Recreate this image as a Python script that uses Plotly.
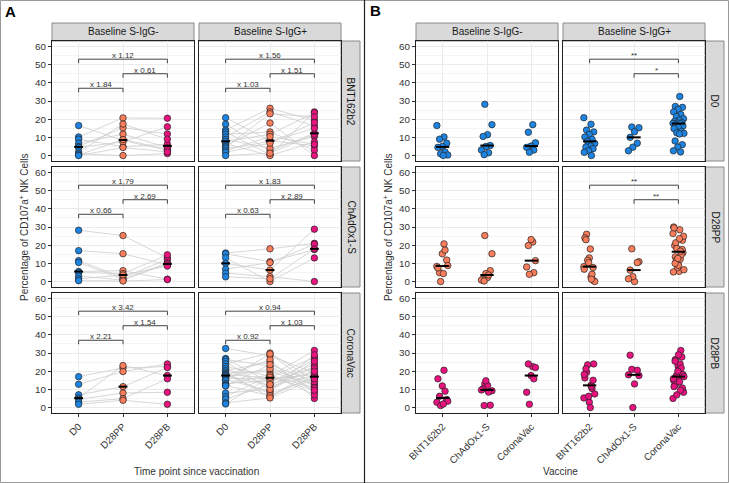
import numpy as np
import plotly.graph_objects as go

# ---------------- data ----------------
VACCINES = ["BNT162b2", "ChAdOx1-S", "CoronaVac"]
TIMEPOINTS = ["D0", "D28PP", "D28PB"]
SEROSTATUS = ["Baseline S-IgG-", "Baseline S-IgG+"]

# subject-ordered values (D0, D28PP, D28PB), % CD107a+ NK cells
BNT_NEG_D0 = [16.5, 10.2, 9.0, 6.8, 5.0, 4.5, 2.0, 1.0, 0.3, 0.0]
BNT_NEG_PP = [8.3, 20.7, 4.9, 11.8, 15.3, 7.5, 17.3, 0.0, 8.8, 4.4]
BNT_NEG_PB = [2.9, 20.5, 6.2, 4.4, 11.9, 15.8, 9.0, 1.1, 3.5, 2.0]

BNT_POS_D0 = [20.8, 17.2, 14.0, 13.0, 11.7, 10.2, 8.9, 7.8, 6.6, 5.3, 4.7, 3.8, 2.6, 1.8, 0.0]
BNT_POS_PP = [8.2, 2.6, 26.0, 0.5, 13.0, 24.0, 4.0, 11.7, 0.0, 17.9, 23.0, 7.7, 10.4, 6.8, 1.3]
BNT_POS_PB = [5.3, 12.2, 19.4, 24.0, 2.9, 16.3, 10.5, 23.5, 7.5, 0.0, 21.3, 15.0, 6.2, 18.2, 11.7]

CHAD_NEG_D0 = [28.2, 17.0, 11.5, 10.5, 5.5, 5.0, 3.0, 1.5, 0.5]
CHAD_NEG_PP = [25.3, 15.3, 2.2, 1.3, 6.0, 4.4, 0.8, 3.6, 0.3]
CHAD_NEG_PB = [13.0, 9.2, 12.2, 10.3, 1.3, 14.7, 9.7, 8.5, 1.1]

CHAD_POS_D0 = [15.7, 15.3, 13.1, 10.0, 6.8, 4.6, 2.6]
CHAD_POS_PP = [18.0, 10.9, 0.0, 6.3, 10.4, 2.7, 1.5]
CHAD_POS_PB = [21.0, 17.6, 13.0, 28.8, 20.5, 0.0, 18.0]

CORO_NEG_D0 = [17.0, 12.8, 7.0, 5.2, 4.5, 3.0, 1.8]
CORO_NEG_PP = [21.8, 19.8, 11.5, 23.1, 8.0, 4.9, 4.0]
CORO_NEG_PB = [22.5, 24.0, 22.0, 17.6, 8.4, 15.8, 1.8]

CORO_POS_D0 = [32.5, 27.0, 26.5, 25.4, 24.0, 22.6, 21.4, 20.3, 19.5, 18.8, 18.1, 17.9, 17.7, 17.6,
               16.9, 16.2, 15.5, 14.8, 13.3, 12.5, 12.2, 11.9, 8.0, 6.0, 4.7, 2.6, 2.0]
CORO_POS_PP = [28.5, 13.6, 22.7, 9.5, 30.0, 17.2, 11.8, 24.9, 5.6, 19.8, 16.4, 7.6, 26.4, 12.2,
               21.3, 15.8, 8.9, 29.5, 14.7, 18.2, 6.5, 23.6, 10.0, 17.6, 12.7, 5.3, 16.7]
CORO_POS_PB = [19.1, 26.4, 10.0, 22.8, 15.0, 31.4, 17.6, 8.4, 20.8, 12.3, 27.8, 16.5, 5.0, 24.0,
               13.0, 18.2, 29.0, 11.5, 21.7, 7.0, 17.0, 14.2, 25.5, 10.8, 20.0, 15.8, 9.5]

# fold-change labels: (D0 vs D28PP, D28PP vs D28PB, D0 vs D28PB)
FOLD_BNT_NEG = ["x 1.84", "x 0.61", "x 1.12"]
FOLD_BNT_POS = ["x 1.03", "x 1.51", "x 1.56"]
FOLD_CHAD_NEG = ["x 0.66", "x 2.69", "x 1.79"]
FOLD_CHAD_POS = ["x 0.63", "x 2.89", "x 1.83"]
FOLD_CORO_NEG = ["x 2.21", "x 1.54", "x 3.42"]
FOLD_CORO_POS = ["x 0.92", "x 1.03", "x 0.94"]

# significance in panel B, S-IgG+ column: (BNT162b2 vs CoronaVac, ChAdOx1-S vs CoronaVac)
SIG_D0_POS = ["**", "*"]
SIG_PP_POS = ["**", "**"]

DATA = {
    ("BNT162b2", 0): (BNT_NEG_D0, BNT_NEG_PP, BNT_NEG_PB),
    ("BNT162b2", 1): (BNT_POS_D0, BNT_POS_PP, BNT_POS_PB),
    ("ChAdOx1-S", 0): (CHAD_NEG_D0, CHAD_NEG_PP, CHAD_NEG_PB),
    ("ChAdOx1-S", 1): (CHAD_POS_D0, CHAD_POS_PP, CHAD_POS_PB),
    ("CoronaVac", 0): (CORO_NEG_D0, CORO_NEG_PP, CORO_NEG_PB),
    ("CoronaVac", 1): (CORO_POS_D0, CORO_POS_PP, CORO_POS_PB),
}
FOLDS = {
    ("BNT162b2", 0): FOLD_BNT_NEG, ("BNT162b2", 1): FOLD_BNT_POS,
    ("ChAdOx1-S", 0): FOLD_CHAD_NEG, ("ChAdOx1-S", 1): FOLD_CHAD_POS,
    ("CoronaVac", 0): FOLD_CORO_NEG, ("CoronaVac", 1): FOLD_CORO_POS,
}
SIGS = {(0, 1): SIG_D0_POS, (1, 1): SIG_PP_POS}

# ---------------- styling / layout ----------------
W, H = 729, 483
FONT = "Liberation Sans, Arial, sans-serif"
COLORS = ["#1E84E2", "#FA7D5C", "#E8137F"]
TXT = "#333333"
TICKSIZE = 9.8


def fx(x):
    return x / W


def fy(y):
    return 1 - y / H


COLS = {"A": [(52, 194), (199, 341)], "B": [(416, 558), (563, 705)]}
STRIP_R = {"A": (341, 360), "B": (705, 724)}
ROWS = [(41, 161), (167, 287), (293, 413)]
STRIP_T = (23, 41)

fig = go.Figure()
layout = dict(
    width=W, height=H, margin=dict(l=0, r=0, t=0, b=0, autoexpand=False),
    paper_bgcolor="white", plot_bgcolor="white", showlegend=False,
    font=dict(family=FONT, color=TXT), shapes=[], annotations=[],
)
shapes = layout["shapes"]
annots = layout["annotations"]


def paper_text(x, y, text, size=10, color=TXT, angle=0):
    annots.append(dict(x=fx(x), y=fy(y), xref="paper", yref="paper", text=text,
                       showarrow=False, xanchor="center", yanchor="middle", textangle=angle,
                       font=dict(size=size, color=color, family=FONT)))


panel_id = 0


def add_axes(block, r, c, ticktext):
    global panel_id
    panel_id += 1
    k = panel_id
    xn = "x" if k == 1 else f"x{k}"
    yn = "y" if k == 1 else f"y{k}"
    xa = "xaxis" if k == 1 else f"xaxis{k}"
    ya = "yaxis" if k == 1 else f"yaxis{k}"
    x0, x1 = COLS[block][c]
    y0, y1 = ROWS[r]
    bottom = r == 2
    left = c == 0
    layout[xa] = dict(
        domain=[fx(x0), fx(x1)], range=[0.4, 3.6], anchor=yn, automargin=False,
        tickvals=[1, 2, 3], ticktext=ticktext, showticklabels=bottom,
        ticks="outside" if bottom else "", ticklen=3, tickcolor=TXT, tickwidth=1,
        tickangle=-45, tickfont=dict(size=TICKSIZE, color=TXT, family=FONT),
        showgrid=True, gridcolor="#EBEBEB", gridwidth=1, zeroline=False,
        showline=True, mirror=True, linecolor="#222222", linewidth=1.2,
    )
    layout[ya] = dict(
        domain=[fy(y1), fy(y0)], range=[-3, 63], anchor=xn, automargin=False,
        tick0=0, dtick=10, showticklabels=left,
        ticks="outside" if left else "", ticklen=3, tickcolor=TXT, tickwidth=1,
        tickfont=dict(size=TICKSIZE, color=TXT, family=FONT),
        showgrid=True, gridcolor="#EBEBEB", gridwidth=1, zeroline=False,
        minor=dict(dtick=5, tick0=0, showgrid=True, gridcolor="#F4F4F4", gridwidth=0.6),
        showline=True, mirror=True, linecolor="#222222", linewidth=1.2,
    )
    return xn, yn


def bracket(xn, yn, xa, xb, y, label, drop=2.2):
    shapes.append(dict(
        type="path", xref=xn, yref=yn,
        path=f"M {xa},{y - drop} L {xa},{y} L {xb},{y} L {xb},{y - drop}",
        line=dict(color="#444444", width=1), layer="above",
    ))
    annots.append(dict(
        x=(xa + xb) / 2, y=y, xref=xn, yref=yn, text=label, showarrow=False,
        xanchor="center", yanchor="bottom", yshift=-3,
        font=dict(size=8, color=TXT, family=FONT),
    ))


def median_bar(xn, yn, xs, meds, half):
    bx, by = [], []
    for x, m in zip(xs, meds):
        bx += [x - half, x + half, None]
        by += [m, m, None]
    fig.add_trace(go.Scatter(x=bx, y=by, mode="lines", xaxis=xn, yaxis=yn,
                             line=dict(color="black", width=2), hoverinfo="skip"))


# ---------- Panel A: vaccine rows, paired time points ----------
for r, vac in enumerate(VACCINES):
    for c in range(2):
        xn, yn = add_axes("A", r, c, TIMEPOINTS)
        d0, pp, pb = DATA[(vac, c)]
        lx, ly = [], []
        for a, b_, cc in zip(d0, pp, pb):
            lx += [1, 2, 3, None]
            ly += [a, b_, cc, None]
        fig.add_trace(go.Scatter(x=lx, y=ly, mode="lines", xaxis=xn, yaxis=yn,
                                 line=dict(color="#CDCDCD", width=0.8), hoverinfo="skip"))
        for t, vals in enumerate((d0, pp, pb)):
            fig.add_trace(go.Scatter(
                x=[t + 1] * len(vals), y=vals, mode="markers", xaxis=xn, yaxis=yn,
                marker=dict(size=6.5, color=COLORS[t], line=dict(color="#222222", width=0.7))))
        median_bar(xn, yn, [1, 2, 3], [float(np.median(v)) for v in (d0, pp, pb)], 0.1)
        f = FOLDS[(vac, c)]
        bracket(xn, yn, 1, 2, 37, f[0])
        bracket(xn, yn, 2, 3, 45, f[1])
        bracket(xn, yn, 1, 3, 53, f[2])

# ---------- Panel B: time point rows, vaccine on x ----------
for r, tp in enumerate(TIMEPOINTS):
    for c in range(2):
        xn, yn = add_axes("B", r, c, VACCINES)
        meds = []
        for v, vac in enumerate(VACCINES):
            vals = DATA[(vac, c)][r]
            offs = [((i * 0.6180339887 + 0.31 * v) % 1 - 0.5) * 0.26 for i in range(len(vals))]
            fig.add_trace(go.Scatter(
                x=[v + 1 + o for o in offs], y=vals, mode="markers", xaxis=xn, yaxis=yn,
                marker=dict(size=6.5, color=COLORS[r], line=dict(color="#222222", width=0.7))))
            meds.append(float(np.median(vals)))
        median_bar(xn, yn, [1, 2, 3], meds, 0.15)
        if (r, c) in SIGS:
            s = SIGS[(r, c)]
            bracket(xn, yn, 1, 3, 53, s[0])
            bracket(xn, yn, 2, 3, 45, s[1])

# ---------- strips ----------
for block in ("A", "B"):
    for c, (x0, x1) in enumerate(COLS[block]):
        shapes.append(dict(type="rect", xref="paper", yref="paper",
                           x0=fx(x0), x1=fx(x1), y0=fy(STRIP_T[1]), y1=fy(STRIP_T[0]),
                           fillcolor="#D9D9D9", line=dict(color="#8A8A8A", width=1), layer="below"))
        paper_text((x0 + x1) / 2, (STRIP_T[0] + STRIP_T[1]) / 2, SEROSTATUS[c], 10, "#1A1A1A")
    sx0, sx1 = STRIP_R[block]
    labels = VACCINES if block == "A" else TIMEPOINTS
    for r, (y0, y1) in enumerate(ROWS):
        shapes.append(dict(type="rect", xref="paper", yref="paper",
                           x0=fx(sx0), x1=fx(sx1), y0=fy(y1), y1=fy(y0),
                           fillcolor="#D9D9D9", line=dict(color="#8A8A8A", width=1), layer="below"))
        paper_text((sx0 + sx1) / 2, (y0 + y1) / 2, labels[r], 10, "#1A1A1A", 90)

# ---------- titles & panel letters ----------
YT = "Percentage of CD107a<sup>+</sup> NK Cells"
for xpos in (24, 388):
    paper_text(xpos, 227, YT, 10, TXT, -90)
paper_text(196.5, 471, "Time point since vaccination", 10)
paper_text(560.5, 471, "Vaccine", 10)
paper_text(10.5, 11, "<b>A</b>", 15, "black")
paper_text(375, 10.5, "<b>B</b>", 15, "black")

# ---------- outer frame ----------
shapes.append(dict(type="rect", xref="paper", yref="paper", x0=fx(0.5), x1=fx(728.5),
                   y0=fy(482.5), y1=fy(0.5), line=dict(color="#999999", width=1)))
shapes.append(dict(type="line", xref="paper", yref="paper", x0=fx(364.5), x1=fx(364.5),
                   y0=0, y1=1, line=dict(color="#222222", width=1.2)))

fig.update_layout(**layout)
fig.write_html("out.html")
